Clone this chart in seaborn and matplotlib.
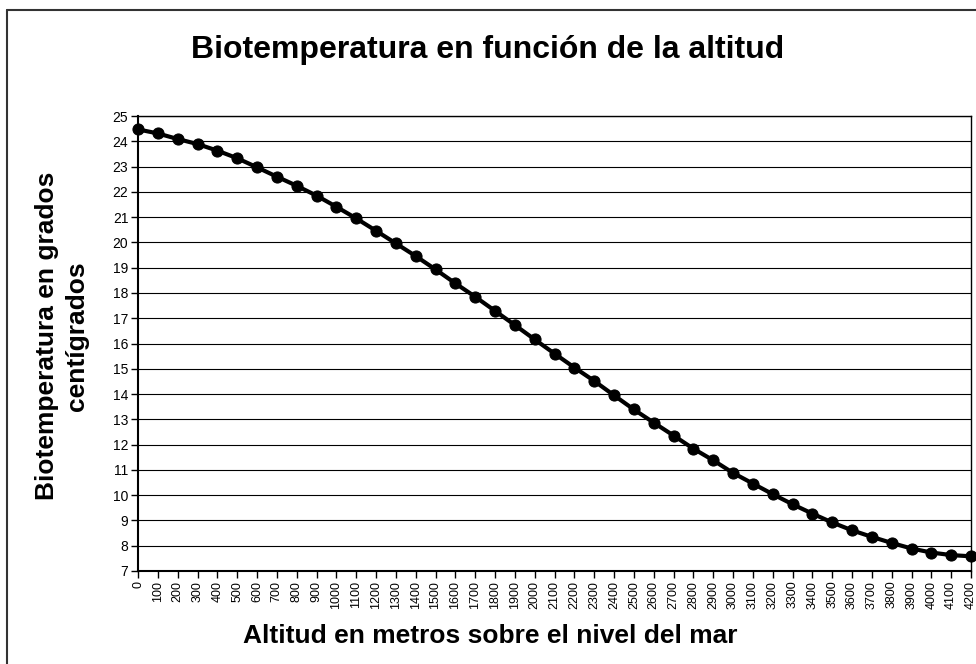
import matplotlib
matplotlib.use("Agg")
import matplotlib.pyplot as plt
import seaborn as sns
import pandas as pd
from matplotlib.lines import Line2D

altitud = list(range(0, 4201, 100))
biotemp = [24.47, 24.31, 24.09, 23.89, 23.63, 23.33, 22.97, 22.60, 22.24, 21.85,
           21.41, 20.95, 20.46, 19.96, 19.46, 18.93, 18.38, 17.85, 17.29, 16.73,
           16.16, 15.60, 15.05, 14.52, 13.95, 13.39, 12.87, 12.36, 11.84, 11.38,
           10.88, 10.46, 10.04, 9.64, 9.27, 8.92, 8.61, 8.35, 8.11, 7.89,
           7.73, 7.63, 7.58]
y_ticks = list(range(7, 26))

title = "Biotemperatura en función de la altitud"
xlabel = "Altitud en metros sobre el nivel del mar"
ylabel = "Biotemperatura en grados\ncentígrados"

sns.set_theme(style="white")
plt.rcParams['font.family'] = ['Liberation Sans', 'DejaVu Sans']
plt.rcParams['text.color'] = 'black'
plt.rcParams['xtick.color'] = 'black'
plt.rcParams['ytick.color'] = 'black'
plt.rcParams['axes.labelcolor'] = 'black'

df = pd.DataFrame({"Altitud": altitud, "Biotemperatura": biotemp})

W, H = 976, 664
fig = plt.figure(figsize=(W / 100, H / 100), dpi=100)
fig.patch.set_facecolor("white")
ax = fig.add_axes([138 / W, 1 - 571 / H, (971 - 138) / W, (571 - 116) / H])

sns.lineplot(data=df, x="Altitud", y="Biotemperatura", ax=ax, color="black",
             linewidth=3, marker="o", markersize=8, markeredgecolor="black",
             markerfacecolor="black", clip_on=False, zorder=5)

ax.set_xlim(0, 4200)
ax.set_ylim(7, 25)
ax.set_yticks(y_ticks)
ax.set_yticklabels([str(v) for v in y_ticks], fontsize=10)
ax.set_xticks(altitud)
ax.set_xticklabels([str(v) for v in altitud], rotation=90, fontsize=9)
ax.tick_params(axis="both", direction="out", length=5, width=1, color="black",
               labelcolor="black", left=True, bottom=True, pad=2)
ax.grid(axis="y", color="black", linewidth=0.8)
ax.grid(axis="x", visible=False)
ax.set_axisbelow(True)
for s in ax.spines.values():
    s.set_visible(True)
    s.set_color("black")
    s.set_linewidth(1)
ax.spines["left"].set_linewidth(1.5)
ax.spines["bottom"].set_linewidth(1.5)
ax.set_xlabel("")
ax.set_ylabel("")

fig.text(488 / W, 1 - 50 / H, title, ha="center", va="center",
         fontsize=23, fontweight="bold", color="black")
fig.text(490 / W, 1 - 636 / H, xlabel, ha="center", va="center",
         fontsize=19, fontweight="bold", color="black")
fig.text(62 / W, 1 - 336 / H, ylabel, ha="center", va="center",
         fontsize=19, fontweight="bold", rotation=90, linespacing=1.3,
         color="black")

# outer chart border (left and top edges visible)
fig.add_artist(Line2D([7 / W, 7 / W], [0, 1 - 10 / H], transform=fig.transFigure,
                      color="#333333", linewidth=1.5))
fig.add_artist(Line2D([7 / W, 1], [1 - 10 / H, 1 - 10 / H], transform=fig.transFigure,
                      color="#333333", linewidth=1.5))

fig.savefig("out.png", dpi=100, facecolor="white")
